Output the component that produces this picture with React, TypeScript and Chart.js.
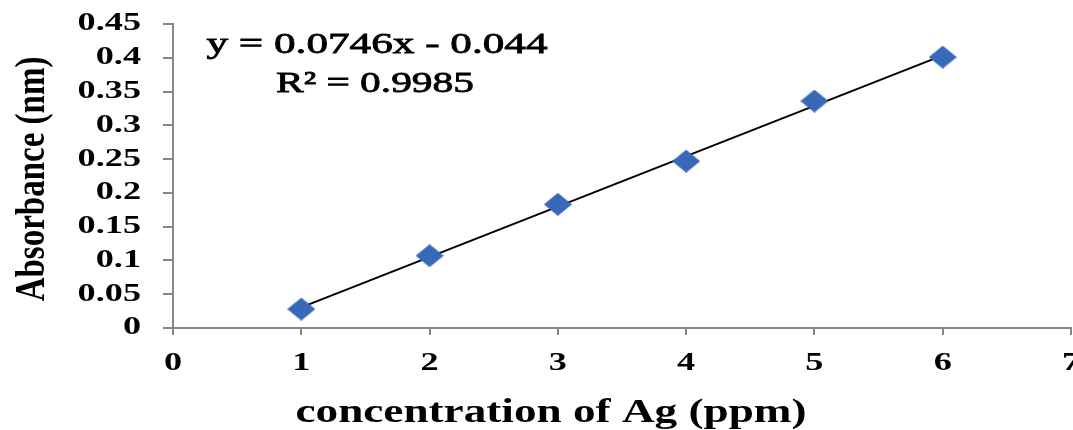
import React, { useEffect, useRef } from 'react';
import { Chart, registerables } from 'chart.js';

Chart.register(...registerables);

// ---- data ----
const concentration = [1, 2, 3, 4, 5, 6];
const absorbance = [0.028, 0.107, 0.183, 0.247, 0.336, 0.401];
const trendX = [1, 6];
const trendY = [0.0306, 0.4036];
const xTickLabels = ['0', '1', '2', '3', '4', '5', '6', '7'];
const yTickLabels = ['0', '0.05', '0.1', '0.15', '0.2', '0.25', '0.3', '0.35', '0.4', '0.45'];
const equationText = 'y = 0.0746x - 0.044';
const r2Text = 'R² = 0.9985';
const xTitle = 'concentration of Ag (ppm)';
const yTitle = 'Absorbance (nm)';

const SERIF = "'Liberation Serif', 'Times New Roman', serif";
const STRETCH = 1.45;

function makeDiamond(w: number, h: number, color: string) {
  const c = document.createElement('canvas');
  c.width = w;
  c.height = h;
  const g = c.getContext('2d')!;
  g.fillStyle = color;
  g.beginPath();
  g.moveTo(w / 2, 0);
  g.lineTo(w, h / 2);
  g.lineTo(w / 2, h);
  g.lineTo(0, h / 2);
  g.closePath();
  g.fill();
  return c;
}

function stretchedText(
  ctx: CanvasRenderingContext2D,
  text: string,
  x: number,
  y: number,
  sx: number,
  stroke = 0
) {
  ctx.save();
  ctx.translate(x, y);
  ctx.scale(sx, 1);
  ctx.fillText(text, 0, 0);
  if (stroke > 0) {
    ctx.lineWidth = stroke;
    ctx.strokeText(text, 0, 0);
  }
  ctx.restore();
}

const textPlugin = {
  id: 'textPlugin',
  afterDraw(chart: any) {
    const ctx = chart.ctx as CanvasRenderingContext2D;
    const area = chart.chartArea;
    const xs = chart.scales.x;
    const ys = chart.scales.y;
    ctx.save();
    ctx.fillStyle = '#000';
    ctx.strokeStyle = '#000';

    // tick labels (from the library's scales)
    ctx.font = `bold 25px ${SERIF}`;
    ctx.textBaseline = 'middle';
    ctx.textAlign = 'right';
    ys.ticks.forEach((t: any) => {
      const idx = Math.round(t.value / 0.05);
      const label = yTickLabels[idx] ?? String(t.value);
      stretchedText(ctx, label, area.left - 32, ys.getPixelForValue(t.value), STRETCH);
    });
    ctx.textAlign = 'center';
    xs.ticks.forEach((t: any) => {
      const label = xTickLabels[Math.round(t.value)] ?? String(t.value);
      stretchedText(ctx, label, xs.getPixelForValue(t.value), area.bottom + 36, STRETCH);
    });

    // trendline equation
    ctx.font = `30px ${SERIF}`;
    ctx.textAlign = 'center';
    ctx.textBaseline = 'alphabetic';
    stretchedText(ctx, equationText, area.left + 204, area.top + 29, 1.44, 0.8);
    stretchedText(ctx, r2Text, area.left + 202, area.top + 68, 1.38, 0.8);

    // x axis title
    ctx.font = `bold 33px ${SERIF}`;
    stretchedText(ctx, xTitle, area.left + 378, area.bottom + 94, 1.37);

    // y axis title
    ctx.font = `bold 33px ${SERIF}`;
    ctx.textBaseline = 'middle';
    ctx.save();
    ctx.translate(33, area.top + 155);
    ctx.scale(1.3, 1);
    ctx.rotate(-Math.PI / 2);
    ctx.fillText(yTitle, 0, 0);
    ctx.restore();

    ctx.restore();
  },
};

export default function App() {
  const ref = useRef<HTMLCanvasElement | null>(null);

  useEffect(() => {
    if (!ref.current) return;
    const diamond = makeDiamond(28, 23, '#3868B8');
    const axisColor = '#868686';
    const chart = new Chart(ref.current, {
      type: 'scatter',
      data: {
        datasets: [
          {
            label: 'Absorbance',
            data: concentration.map((x, i) => ({ x, y: absorbance[i] })),
            pointStyle: diamond as any,
            pointRadius: 12,
            backgroundColor: '#3868B8',
            borderColor: '#3868B8',
          },
          {
            label: 'Linear',
            type: 'line',
            data: trendX.map((x, i) => ({ x, y: trendY[i] })),
            borderColor: '#000',
            borderWidth: 2,
            pointRadius: 0,
            showLine: true,
            fill: false,
          } as any,
        ],
      },
      options: {
        responsive: false,
        animation: false,
        devicePixelRatio: 1,
        layout: { padding: { left: 0, top: 24, right: 29, bottom: 0 } },
        plugins: {
          legend: { display: false },
          tooltip: { enabled: false },
          title: { display: false },
        },
        scales: {
          x: {
            type: 'linear',
            min: 0,
            max: 7,
            afterFit: (s: any) => {
              s.height = 102;
            },
            ticks: {
              stepSize: 1,
              display: false,
            },
            grid: {
              display: true,
              drawOnChartArea: false,
              drawTicks: true,
              tickLength: 7,
              color: axisColor,
              lineWidth: 2,
            },
            border: { display: true, color: axisColor, width: 2 },
          },
          y: {
            type: 'linear',
            min: 0,
            max: 0.45,
            afterFit: (s: any) => {
              s.width = 173;
            },
            ticks: {
              stepSize: 0.05,
              display: false,
            },
            grid: {
              display: true,
              drawOnChartArea: false,
              drawTicks: true,
              tickLength: 10,
              color: axisColor,
              lineWidth: 2,
            },
            border: { display: true, color: axisColor, width: 2 },
          },
        },
      },
      plugins: [textPlugin],
    });
    return () => chart.destroy();
  }, []);

  return (
    <div
      style={{
        position: 'absolute',
        left: 0,
        top: 0,
        width: 1073,
        height: 430,
        overflow: 'hidden',
        background: '#fff',
      }}
    >
      <canvas ref={ref} width={1100} height={430} style={{ display: 'block', width: 1100, height: 430 }} />
    </div>
  );
}
